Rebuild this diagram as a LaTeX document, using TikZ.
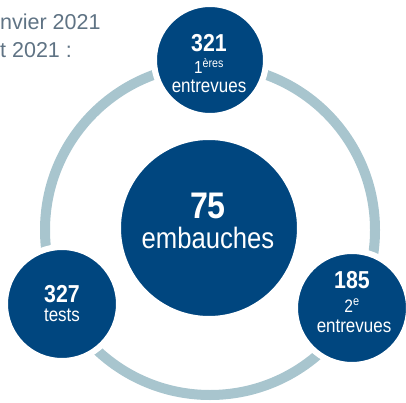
\documentclass[tikz,border=0pt]{standalone}
\usepackage{fontspec}
\setmainfont{Liberation Sans}
\newfontfamily\condfont[FakeStretch=0.87]{Liberation Sans}
\definecolor{bleu}{RGB}{0,70,127}
\definecolor{anneau}{RGB}{168,197,206}
\definecolor{gris}{RGB}{95,115,132}

\begin{document}
\begin{tikzpicture}[x=1pt,y=-1pt,
  bulle/.style={circle,fill=bleu,draw=white,line width=6pt,inner sep=0pt},
  chiffre/.style={text=white,font=\condfont\bfseries,anchor=base,inner sep=0pt},
  mot/.style={text=white,font=\condfont,anchor=base,inner sep=0pt,text depth=0pt},
  intro/.style={text=gris,font=\fontsize{21.5}{21.5}\selectfont,anchor=base west,inner sep=0pt}]
\useasboundingbox (0,0) rectangle (406,403);
\draw [anneau, line width=10pt] (210,230) circle (165pt);

\node [intro] (ligne1) at (0,30) {nvier 2021};
\node [intro] (ligne2) at (0,58) {t 2021 :};

\node [bulle, minimum size=112pt] (entrevues1) at (210,60) {};
\node [bulle, minimum size=114pt] (tests) at (62,304) {};
\node [bulle, minimum size=114pt] (entrevues2) at (352,308) {};
\node [bulle, minimum size=182pt] (embauches) at (209,228) {};

% cercle du haut
\node [chiffre, font=\condfont\bfseries\fontsize{24.5}{24.5}\selectfont] (n321) at (209,52) {321};
\node [mot, font=\condfont\fontsize{17.5}{17.5}\selectfont] (rang1) at (209,74) {1\textsuperscript{ères}};
\node [mot, font=\condfont\fontsize{19.5}{19.5}\selectfont] (mot1) at (209,93) {entrevues};

% cercle de gauche
\node [chiffre, font=\condfont\bfseries\fontsize{24.5}{24.5}\selectfont] (n327) at (62,302) {327};
\node [mot, font=\condfont\fontsize{19.5}{19.5}\selectfont] (mot3) at (62,321) {tests};

% cercle de droite
\node [chiffre, font=\condfont\bfseries\fontsize{24.5}{24.5}\selectfont] (n185) at (352,288) {185};
\node [mot, font=\condfont\fontsize{18}{18}\selectfont] (rang2) at (352,312) {2\textsuperscript{e}};
\node [mot, font=\condfont\fontsize{19.5}{19.5}\selectfont] (mot2) at (354,332) {entrevues};

% cercle central
\node [chiffre, font=\condfont\bfseries\fontsize{37}{37}\selectfont] (n75) at (208,218) {75};
\node [mot, font=\condfont\fontsize{29.5}{29.5}\selectfont] (mot4) at (208,248) {embauches};
\end{tikzpicture}
\end{document}
